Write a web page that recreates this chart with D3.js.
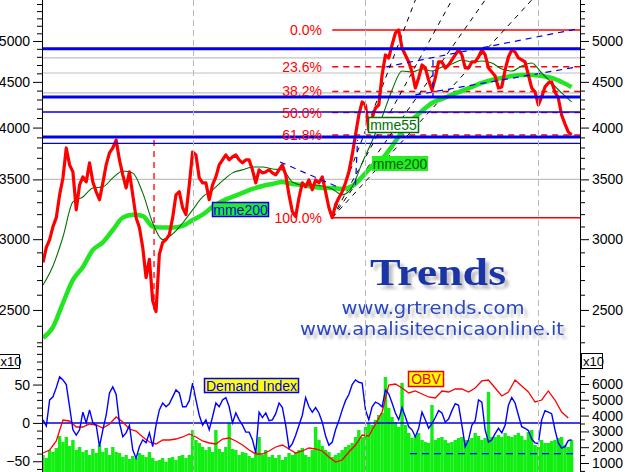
<!DOCTYPE html>
<html><head><meta charset="utf-8">
<script src="https://cdn.jsdelivr.net/npm/d3@7"></script>
<style>html,body{margin:0;padding:0;background:#fff;overflow:hidden}</style>
</head><body>
<svg id="c" width="627" height="472"></svg>
<script>
// ---------- DATA ----------
const price = [
2826,2937,2997,3099,3171,3363,3513,3795,3633,3568,
3236,3451,3522,3477,3652,3477,3390,3321,3469,3633,
3747,3795,3873,3680,3541,3424,3568,3363,3171,3091,
2937,2717,2848,2560,2490,2885,2975,2997,3036,3171,
3363,3390,3253,3196,3451,3756,3728,3513,3469,3469,
3321,3451,3522,3633,3680,3728,3680,3709,3728,3680,
3652,3680,3680,3587,3469,3587,3559,3568,3587,3559,
3541,3587,3633,3541,3363,3220,3179,3338,3469,3433,
3495,3407,3495,3469,3522,3390,3253,3171,3278,3338,
3390,3469,3568,3728,3926,4132,4273,4240,3976,4101,
4207,4240,4581,4823,4786,4949,5104,5144,4910,4823,
4737,4616,4430,4546,4700,4664,4522,4407,4546,4737,
4737,4664,4700,4761,4823,4886,4823,4664,4664,4737,
4737,4798,4886,4823,4664,4616,4569,4430,4442,4640,
4798,4886,4860,4786,4761,4737,4581,4430,4385,4240,
4328,4442,4488,4499,4385,4317,4132,4038,3956,3926];
const maStep = 3; // moving averages sampled every 3rd bar
const mme55 = [2666,2800,3017,3302,3345,3423,3433,3513,3577,3559,3380,3128,2997,3041,3128,3236,3345,3407,3486,3559,3587,3614,3614,3595,3587,3477,3451,3451,3441,3415,3363,3433,3652,3864,4111,4407,4628,4616,4652,4628,4676,4712,4761,4737,4749,4725,4652,4628,4688,4725,4604,4488,4373,4273];
const mme200 = [2326,2392,2545,2701,2793,2918,2975,3072,3171,3196,3185,3099,3091,3091,3104,3152,3196,3260,3310,3345,3380,3415,3441,3459,3477,3459,3451,3433,3424,3424,3415,3441,3522,3623,3689,3814,3956,4079,4175,4262,4306,4351,4396,4442,4488,4522,4546,4569,4581,4581,4569,4546,4499,4442];
const demandIndex = [
4,-4,30,34,46,60,56,50,21,-9,
-16,-9,14,0,17,0,-3,-31,-9,10,
39,47,37,0,-18,-13,-3,-35,-46,-31,
-22,-26,-13,-31,-3,17,26,21,25,34,
43,39,21,21,29,52,30,10,-3,4,
-9,8,26,21,30,33,21,0,13,4,
-3,-12,-12,-22,-39,14,7,13,3,4,
12,26,20,-3,-33,-27,-16,-3,10,33,
21,14,20,13,1,-17,-29,-25,-9,3,
17,29,37,50,56,53,52,17,4,21,
27,25,21,43,38,26,13,4,20,8,
-5,-9,-18,-7,14,4,-7,-1,7,16,
13,1,5,16,25,23,-3,-31,-22,-3,
3,30,27,-9,-25,-22,-14,-7,-13,-3,
23,33,26,10,-5,-7,-10,-21,-26,-27,
4,16,14,12,-9,-26,-33,-31,-23,-22];
const obvStep = 2;
const obv = [
1633,1823,2393,3722,3659,3279,3279,3469,3405,3216,
3469,3912,3595,3152,3025,2646,2329,2203,2456,2456,
2519,2646,2836,2646,2393,2266,2203,2519,2583,2393,
2139,1823,1570,1570,1760,2013,2139,1886,1633,1760,
1950,1886,1760,1380,1063,1190,1696,2139,2772,2709,
3469,4228,5937,6001,5748,5431,5558,5368,5178,5115,
5558,5494,5684,5684,5494,5748,6191,6254,5748,5241,
5494,6254,5874,5494,4861,4987,5558,4987,4228,3849];
const volume = [
170,140,220,200,240,360,300,350,260,320,
220,250,200,220,170,230,190,270,200,240,
170,250,200,190,150,170,130,160,140,190,
170,150,200,140,110,120,140,100,140,150,
120,160,170,140,170,420,320,290,250,220,
250,200,420,230,200,250,490,230,220,170,
200,190,160,140,200,350,170,220,150,170,
140,170,120,150,190,170,200,220,240,170,
150,220,450,320,260,220,200,150,170,190,
220,250,270,290,350,420,350,450,490,470,
520,570,590,950,640,550,500,450,890,470,
390,340,360,390,320,300,290,670,320,340,
350,320,290,300,320,340,350,320,320,340,
390,360,320,340,800,350,350,370,350,390,
360,350,370,390,360,320,400,420,270,250,
320,290,290,310,320,340,350,270,250,320];

const priceTicks = [2500,3000,3500,4000,4500,5000];
const diTicks = [-50,0,50];
const obvTicks = [1000,2000,3000,4000,5000,6000];
const fibPct = [0,23.6,38.2,50.0,61.8,100.0];
const fibLabels = ["0.0%","23.6%","38.2%","50.0%","61.8%","100.0%"];
const fibLowIdx = 87, fibHighIdx = 107;
const blueThick = [4900,4328,3904];
const blueThin = [4164,3840];
const grayLevels = [4786,4604,4373,3500];
const separators = [45,97,149];
const lowMarker = {idx:33.4, from:3873, to:2500};
const fanTargets = [[112,5557],[123,5557],[133,5557],[147,5557]];
const trendLines = [
  [[103,4676],[160.6,5157]],
  [[112,4351],[160.6,4676]],
  [[71.3,3661],[89.3,3424]],
  [[94,3451],[94.6,3873]],
  [[117.3,4761],[117.3,4328]]
];
const diLevel = {value:-40, from:110.4, to:159.6};

// ---------- LAYOUT ----------
const W=627,H=472,L=42,R=580,mainBottom=345;
const FONT="'Liberation Sans', Arial, sans-serif";
const svg=d3.select("#c");
const x=d3.scaleLinear().domain([0,price.length-1]).range([43,571.6]);
const y=d3.scaleLog().domain([2284,5557]).range([mainBottom,0]);
const yDI=d3.scaleLinear().domain([-64,100]).range([H,346.2]);
const yOBV=d3.scaleLinear().domain([1000,6000]).range([463,384]);
const yVol=d3.scaleLinear().domain([0,1000]).range([H,372]);

const defs=svg.append("defs");
defs.append("clipPath").attr("id","cm").append("rect").attr("x",L).attr("y",0).attr("width",R-L).attr("height",mainBottom);
defs.append("clipPath").attr("id","cs").append("rect").attr("x",L).attr("y",mainBottom).attr("width",R-L).attr("height",H-mainBottom);
const f=defs.append("filter").attr("id","sh").attr("x","-10%").attr("y","-30%").attr("width","130%").attr("height","170%");
f.append("feGaussianBlur").attr("in","SourceAlpha").attr("stdDeviation",1.6).attr("result","b");
f.append("feOffset").attr("in","b").attr("dx",4).attr("dy",4).attr("result","o");
f.append("feComponentTransfer").attr("in","o").attr("result","o2").append("feFuncA").attr("type","linear").attr("slope",0.25);
const fm=f.append("feMerge"); fm.append("feMergeNode").attr("in","o2"); fm.append("feMergeNode").attr("in","SourceGraphic");

// watermark
const wm=svg.append("g").attr("filter","url(#sh)");
wm.append("text").attr("x",438).attr("y",285).attr("text-anchor","middle")
  .attr("font-family","'Liberation Serif', 'Times New Roman', serif").attr("font-weight","bold")
  .attr("font-size",38).attr("textLength",136).attr("lengthAdjust","spacingAndGlyphs")
  .attr("fill","#1c34a6").text("Trends");
wm.append("text").attr("x",433).attr("y",314).attr("text-anchor","middle")
  .attr("font-family","'DejaVu Sans', Verdana, sans-serif").attr("font-size",18)
  .attr("textLength",183).attr("lengthAdjust","spacingAndGlyphs")
  .attr("fill","#2a46c4").text("www.grtrends.com");
wm.append("text").attr("x",432).attr("y",335).attr("text-anchor","middle")
  .attr("font-family","'DejaVu Sans', Verdana, sans-serif").attr("font-size",18)
  .attr("textLength",264).attr("lengthAdjust","spacingAndGlyphs")
  .attr("fill","#2a46c4").text("www.analisitecnicaonline.it");

const gm=svg.append("g").attr("clip-path","url(#cm)");
const gs=svg.append("g").attr("clip-path","url(#cs)");

// gray levels
gm.selectAll(".gl").data(grayLevels).join("line").attr("x1",L).attr("x2",R)
  .attr("y1",d=>y(d)).attr("y2",d=>y(d)).attr("stroke","#c0c0c0").attr("stroke-width",1.2);

// separators
svg.selectAll(".sep").data(separators).join("line").attr("x1",d=>Math.round(x(d))+0.5).attr("x2",d=>Math.round(x(d))+0.5)
  .attr("y1",0).attr("y2",H).attr("stroke","#b8b8b8").attr("stroke-dasharray","6,4");

// volume
gs.selectAll(".vb").data(volume).join("rect")
  .attr("x",(d,i)=>x(i)-1.7).attr("width",3.4).attr("y",d=>yVol(d)).attr("height",d=>H-yVol(d))
  .attr("fill","#11ee11");
// zero line
gs.append("line").attr("x1",L).attr("x2",R).attr("y1",yDI(0)).attr("y2",yDI(0)).attr("stroke","#0000dd").attr("stroke-width",1.5);
// DI level dashed
gs.append("line").attr("x1",x(diLevel.from)).attr("x2",x(diLevel.to)).attr("y1",yDI(diLevel.value)).attr("y2",yDI(diLevel.value))
  .attr("stroke","#0000ee").attr("stroke-width",1.4).attr("stroke-dasharray","7,5");
// OBV
gs.append("path").datum(obv).attr("fill","none").attr("stroke","#ff0000").attr("stroke-width",1.3)
  .attr("d",d3.line().x((d,i)=>x(i*obvStep)).y(d=>yOBV(d)));
// DI
gs.append("path").datum(demandIndex).attr("fill","none").attr("stroke","#0000ff").attr("stroke-width",1.4)
  .attr("d",d3.line().x((d,i)=>x(i)).y(d=>yDI(d)));

// fib
const lo=price[fibLowIdx], hi=price[fibHighIdx];
const fibVals=fibPct.map(p=>hi-p/100*(hi-lo));
gm.selectAll(".fib").data(fibVals).join("line").attr("x1",x(fibLowIdx)).attr("x2",R)
  .attr("y1",d=>y(d)).attr("y2",d=>y(d)).attr("stroke","#ff0000").attr("stroke-width",1.4)
  .attr("stroke-dasharray",(d,i)=>(i===0||i===fibVals.length-1)?null:"6,5");
svg.selectAll(".fibt").data(fibVals).join("text").attr("x",322).attr("y",d=>y(d)).attr("dy","0.36em")
  .attr("text-anchor","end").attr("font-family",FONT).attr("font-size",14).attr("fill","#ff0000")
  .text((d,i)=>fibLabels[i]);

// low marker
gm.append("line").attr("x1",x(lowMarker.idx)).attr("x2",x(lowMarker.idx)).attr("y1",y(lowMarker.from)).attr("y2",y(lowMarker.to))
  .attr("stroke","#ff0000").attr("stroke-width",1.3).attr("stroke-dasharray","6,5");

// fan lines
gm.selectAll(".fan").data(fanTargets).join("line").attr("x1",x(fibLowIdx)).attr("y1",y(lo))
  .attr("x2",d=>x(d[0])).attr("y2",d=>y(d[1])).attr("stroke","#000").attr("stroke-width",1).attr("stroke-dasharray","5,5");

// moving averages
gm.append("path").datum(mme200).attr("fill","none").attr("stroke","#22e622").attr("stroke-width",4.5).attr("stroke-linejoin","round")
  .attr("d",d3.line().curve(d3.curveMonotoneX).x((d,i)=>x(Math.min(i*maStep,price.length-1))).y(d=>y(d)));
gm.append("path").datum(mme55).attr("fill","none").attr("stroke","#007000").attr("stroke-width",1.1)
  .attr("d",d3.line().curve(d3.curveMonotoneX).x((d,i)=>x(Math.min(i*maStep,price.length-1))).y(d=>y(d)));

// price
gm.append("path").datum(price).attr("fill","none").attr("stroke","#ff0000").attr("stroke-width",3.2).attr("stroke-linejoin","round")
  .attr("d",d3.line().x((d,i)=>x(i)).y(d=>y(d)));

// blue levels
gm.selectAll(".bt").data(blueThick).join("line").attr("x1",L).attr("x2",R).attr("y1",d=>y(d)).attr("y2",d=>y(d)).attr("stroke","#0000ee").attr("stroke-width",3);
gm.selectAll(".bn").data(blueThin).join("line").attr("x1",L).attr("x2",R).attr("y1",d=>y(d)).attr("y2",d=>y(d)).attr("stroke","#0000ee").attr("stroke-width",1.3);
// blue trend lines
gm.selectAll(".tl").data(trendLines).join("line").attr("x1",d=>x(d[0][0])).attr("y1",d=>y(d[0][1]))
  .attr("x2",d=>x(d[1][0])).attr("y2",d=>y(d[1][1])).attr("stroke","#0000ee").attr("stroke-width",1.2).attr("stroke-dasharray","6,5");

// axes
function styleAxis(g){
  g.select(".domain").remove();
  g.attr("font-family",FONT).attr("font-size",14);
  g.selectAll("text").attr("fill","#000");
  g.selectAll("line").attr("stroke","#000");
}
const minorP=d3.range(2300,5600,100).filter(v=>!priceTicks.includes(v));
const minorDI=d3.range(-60,101,10).filter(v=>!diTicks.includes(v));
const minorO=d3.range(500,7600,500).filter(v=>!obvTicks.includes(v));
[[L,d3.axisLeft],[R,d3.axisRight]].forEach(([tx,ax])=>{
  svg.append("g").attr("transform",`translate(${tx},0)`).call(ax(y).tickValues(priceTicks).tickSize(9).tickPadding(3).tickFormat(d3.format("d"))).call(styleAxis);
  svg.append("g").attr("transform",`translate(${tx},0)`).call(ax(y).tickValues(minorP).tickSize(5).tickFormat("")).call(styleAxis);
});
svg.append("g").attr("transform",`translate(${L},0)`).call(d3.axisLeft(yDI).tickValues(diTicks).tickSize(9).tickPadding(3)).call(styleAxis);
svg.append("g").attr("transform",`translate(${L},0)`).call(d3.axisLeft(yDI).tickValues(minorDI).tickSize(5).tickFormat("")).call(styleAxis);
svg.append("g").attr("transform",`translate(${R},0)`).call(d3.axisRight(yOBV).tickValues(obvTicks).tickSize(9).tickPadding(3).tickFormat(d3.format("d"))).call(styleAxis);
svg.append("g").attr("transform",`translate(${R},0)`).call(d3.axisRight(yOBV).tickValues(minorO).tickSize(5).tickFormat("")).call(styleAxis);
svg.append("line").attr("x1",L+0.5).attr("x2",L+0.5).attr("y1",0).attr("y2",H).attr("stroke","#000");
svg.append("line").attr("x1",R+0.5).attr("x2",R+0.5).attr("y1",0).attr("y2",H).attr("stroke","#000");

// label boxes
function box(x0,y0,w,h,fill,stroke,color,txt,fs){
  const g=svg.append("g");
  g.append("rect").attr("x",x0).attr("y",y0).attr("width",w).attr("height",h).attr("fill",fill)
    .attr("stroke",stroke||"none").attr("stroke-width",1.5);
  g.append("text").attr("x",x0+w/2).attr("y",y0+h/2).attr("dy","0.36em").attr("text-anchor","middle")
    .attr("font-family",FONT).attr("font-size",fs||14).attr("fill",color).text(txt);
}
box(368.5,117.5,50,15,"#ffffff","#007000","#007000","mme55");
box(372,156,56,15,"#22ee22",null,"#006000","mme200");
box(212.5,202.5,56,14,"#22ee22","#0000ee","#0000ee","mme200");
box(204.5,378.5,94,14,"#ffff00","#0000ee","#0000ee","Demand Index");
box(408.5,371.5,35,15,"#ffff00","#ee0000","#ee0000","OBV");
// x10 markers
const xl=svg.append("g");
xl.append("path").attr("d","M-1,354.5 H19.5 V368.5 H-1").attr("fill","#fff").attr("stroke","#000");
xl.append("text").attr("x",0.5).attr("y",366).attr("font-family",FONT).attr("font-size",13).text("x10");
xl.append("rect").attr("x",581.5).attr("y",353.5).attr("width",21).attr("height",15).attr("fill","#fff").attr("stroke","#000");
xl.append("text").attr("x",583).attr("y",365.5).attr("font-family",FONT).attr("font-size",13).text("x10");
</script>
</body></html>
